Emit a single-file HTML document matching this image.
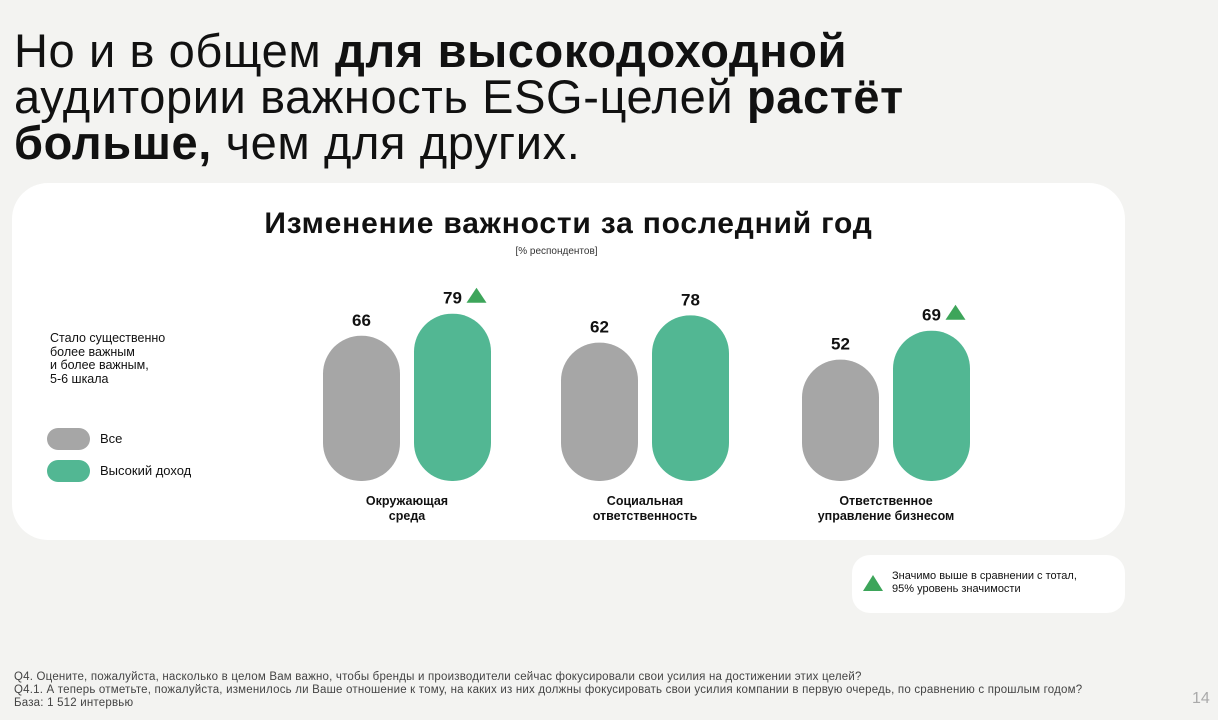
<!DOCTYPE html>
<html><head><meta charset="utf-8"><style>
body{margin:0;width:1218px;height:720px;background:#f3f3f1;font-family:"Liberation Sans","DejaVu Sans",sans-serif;position:relative;overflow:hidden;color:#111}
.abs{position:absolute}
h1{position:absolute;left:14px;top:28px;margin:0;font-weight:normal;font-size:47px;line-height:46px;letter-spacing:0.6px;color:#111}
.card{left:12px;top:183px;width:1113px;height:357px;background:#fff;border-radius:36px}
.note{left:852px;top:555px;width:273px;height:58px;background:#fff;border-radius:18px}
.foot{left:14px;top:671px;font-size:11.5px;line-height:13px;color:#444;letter-spacing:0.2px}
</style></head><body>
<h1>Но и в общем <b>для высокодоходной</b><br>аудитории важность ESG-целей <b>растёт</b><br><b>больше,</b> чем для других.</h1>
<div class="abs card"></div>
<div class="abs" style="left:0;width:1137px;top:207px;text-align:center;font-size:30px;font-weight:bold;letter-spacing:0.8px">Изменение важности за последний год</div>
<div class="abs" style="left:0;width:1113px;top:246px;text-align:center;font-size:10px;color:#333">[% респондентов]</div>
<div class="abs" style="left:50px;top:332px;font-size:12.5px;line-height:13.5px">Стало существенно<br>более важным<br>и более важным,<br>5-6 шкала</div>
<div class="abs" style="left:47px;top:428px;width:43px;height:22px;border-radius:11px;background:#a6a6a6"></div>
<div class="abs" style="left:100px;top:431px;font-size:13px">Все</div>
<div class="abs" style="left:47px;top:460px;width:43px;height:22px;border-radius:11px;background:#52b793"></div>
<div class="abs" style="left:100px;top:463px;font-size:13px">Высокий доход</div>
<svg class="abs" style="left:0;top:0" width="1218" height="720" id="chart"></svg>
<div class="abs note"></div>
<svg class="abs" style="left:862px;top:573px" width="22" height="20"><polygon points="11,2 21,18 1,18" fill="#3da55a"/></svg>
<div class="abs" style="left:892px;top:570px;font-size:11px;line-height:13px">Значимо выше в сравнении с тотал,<br>95% уровень значимости</div>
<div class="abs foot">Q4. Оцените, пожалуйста, насколько в целом Вам важно, чтобы бренды и производители сейчас фокусировали свои усилия на достижении этих целей?<br>Q4.1. А теперь отметьте, пожалуйста, изменилось ли Ваше отношение к тому, на каких из них должны фокусировать свои усилия компании в первую очередь, по сравнению с прошлым годом?<br>База: 1 512 интервью</div>
<div class="abs" style="left:1192px;top:690px;font-size:16px;color:#aaa">14</div>
<script>
const categories=["Окружающая|среда","Социальная|ответственность","Ответственное|управление бизнесом"];
const allValues=[66,62,52];
const highValues=[79,78,69];
const highSignificant=[true,false,true];
const NS="http://www.w3.org/2000/svg";
const svg=document.getElementById('chart');
const baseY=481, bw=77;
const groupX=[323,561,802];
function yH(v){return 33+1.7*v;}
function mk(t,a){const e=document.createElementNS(NS,t);for(const k in a)e.setAttribute(k,a[k]);svg.appendChild(e);return e;}
categories.forEach((c,i)=>{
  [[allValues[i],'#a6a6a6',groupX[i],'all'],[highValues[i],'#52b793',groupX[i]+91,'high']].forEach(([v,col,x,s],j)=>{
    const h=yH(v);
    const r=mk('rect',{x:x,y:baseY-h,width:bw,height:h,rx:38,ry:38,fill:col});
    
    
    const t=mk('text',{x:x+bw/2,y:baseY-h-10,'text-anchor':'middle','font-size':17,'font-weight':'bold',fill:'#111'});
    t.textContent=v;
    
    
    if(j===1&&highSignificant[i]){
      const tx=x+bw/2+24, ty=baseY-h-11;
      const p=mk('polygon',{points:`${tx},${ty-15} ${tx+10},${ty} ${tx-10},${ty}`,fill:'#3da55a'});
      
      
    }
  });
  const lines=c.split('|');
  lines.forEach((ln,k)=>{
    const t=mk('text',{x:groupX[i]+84,y:505+k*15,'text-anchor':'middle','font-size':12.5,'font-weight':'bold',fill:'#111'});
    t.textContent=ln;
    
    
  });
});
</script>
</body></html>
